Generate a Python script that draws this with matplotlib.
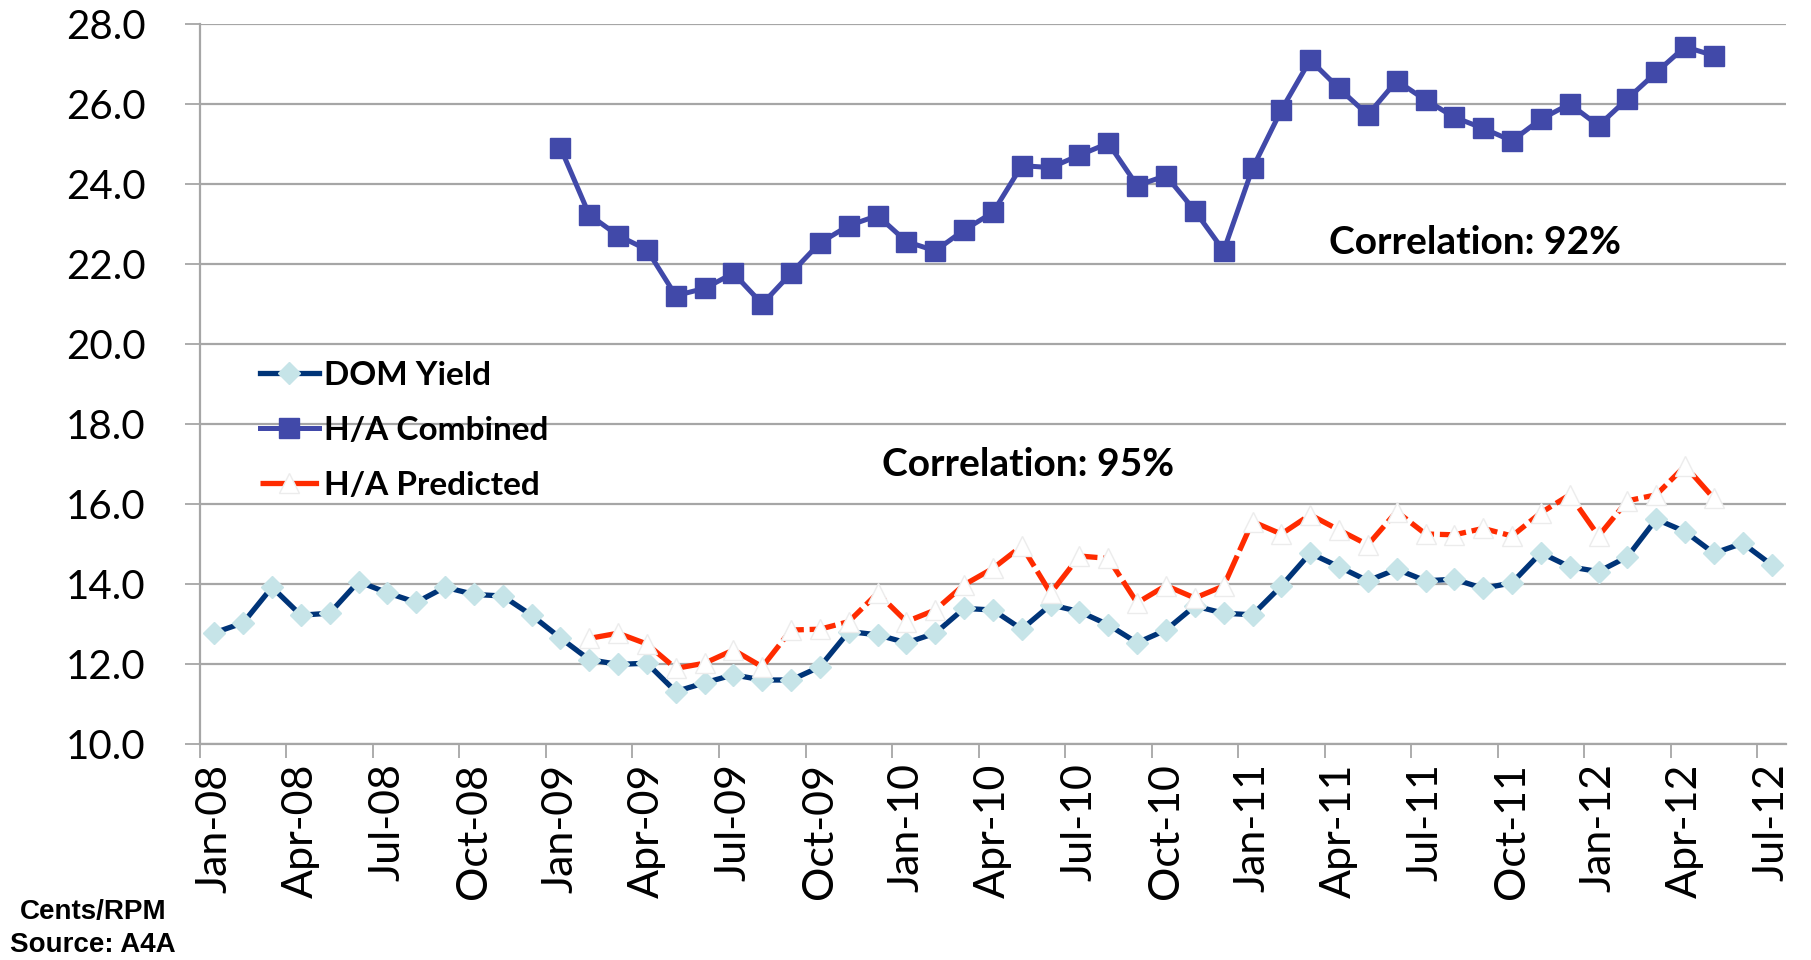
import numpy as np
import pandas as pd
import matplotlib
matplotlib.use('Agg')
import matplotlib.pyplot as plt

#monthly categories Jan-08 .. Jul-12
months = list(pd.date_range('2008-01-01', periods=55, freq='MS').strftime('%b-%y'))

#Cents/RPM
dom_yield = [12.78, 13.03, 13.92, 13.22, 13.27, 14.06, 13.78, 13.54, 13.92, 13.74, 13.70, 13.22,
             12.65, 12.11, 11.99, 12.02, 11.31, 11.53, 11.73, 11.60, 11.60, 11.93, 12.81, 12.73,
             12.53, 12.77, 13.39, 13.35, 12.87, 13.48, 13.31, 12.98, 12.53, 12.85, 13.45, 13.27,
             13.23, 13.95, 14.77, 14.43, 14.08, 14.37, 14.08, 14.12, 13.89, 14.03, 14.78, 14.43,
             14.31, 14.68, 15.62, 15.31, 14.77, 15.02, 14.48]

combined_start = 'Jan-09'
ha_combined = [24.91, 23.23, 22.71, 22.36, 21.21, 21.39, 21.77, 21.00, 21.77, 22.53, 22.96, 23.21,
               22.56, 22.33, 22.85, 23.29, 24.46, 24.41, 24.72, 25.02, 23.96, 24.21, 23.33, 22.33,
               24.39, 25.85, 27.10, 26.39, 25.73, 26.58, 26.10, 25.67, 25.39, 25.08, 25.62, 26.00,
               25.46, 26.13, 26.79, 27.43, 27.21]

predicted_start = 'Feb-09'
ha_predicted = [12.64, 12.77, 12.50, 11.89, 12.02, 12.35, 11.93, 12.85, 12.87, 13.06, 13.77,
                13.06, 13.35, 13.98, 14.39, 14.95, 13.77, 14.70, 14.64, 13.53, 13.96, 13.65,
                13.95, 15.56, 15.25, 15.73, 15.35, 14.98, 15.81, 15.25, 15.23, 15.39, 15.20,
                15.78, 16.23, 15.20, 16.08, 16.23, 16.95, 16.14]

yticks = [10, 12, 14, 16, 18, 20, 22, 24, 26, 28]

font = ['Lato', 'DejaVu Sans']
grid_col = '#a6a6a6'

fig = plt.figure(figsize=(18.11, 9.6), dpi=100)
ax = fig.add_axes([0.1104, 0.225, 0.8758, 0.75])

x = np.arange(len(months))
i0 = months.index(combined_start)
i1 = months.index(predicted_start)

ax.plot(x, dom_yield, color='#003478', lw=3.8, marker='D', ms=11,
        mfc='#c6e4e8', mec='#c6e4e8', label='DOM Yield', zorder=3)
ax.plot(x[i0:i0 + len(ha_combined)], ha_combined, color='#4149a9', lw=3.6, marker='s', ms=14,
        mfc='#4149a9', mec='#4149a9', label='H/A Combined', zorder=3)
ax.plot(x[i1:i1 + len(ha_predicted)], ha_predicted, color='#ff2b00', lw=3.8, dashes=(5, 1.1),
        marker='^', ms=14, mfc='white', mec='#ececec', mew=1.0, label='H/A Predicted', zorder=4)

#axes
ax.set_xlim(-0.5, len(months) - 0.5)
ax.set_ylim(10, 28)
ax.set_yticks(yticks)
ax.set_yticklabels(['%.1f' % v for v in yticks], fontsize=29, family=font)
ax.yaxis.grid(True, color=grid_col, lw=1.6)
ax.set_axisbelow(True)
ax.tick_params(axis='y', length=11, width=1.3, color=grid_col, pad=28)

#ticks between categories, labels on category centres
ax.set_xticks(np.arange(-0.5, len(months) - 0.5, 3))
ax.set_xticklabels([])
ax.set_xticks(x[::3], minor=True)
ax.set_xticklabels(months[::3], minor=True, rotation=90, fontsize=31, family=font)
ax.tick_params(axis='x', which='major', length=10, width=1.3, color=grid_col)
ax.tick_params(axis='x', which='minor', length=0, pad=14)

for s in ['top', 'right']:
    ax.spines[s].set_visible(False)
for s in ['left', 'bottom']:
    ax.spines[s].set_color(grid_col)
    ax.spines[s].set_linewidth(1.6)

leg = ax.legend(loc='upper left', bbox_to_anchor=(0.038, 0.532), frameon=False, numpoints=1,
                handlelength=1.75, handletextpad=0.15, labelspacing=0.78, borderpad=0, borderaxespad=0,
                prop={'family': font, 'weight': 'bold', 'size': 24})

ax.text(43.7, 22.55, 'Correlation: 92%', fontsize=28, fontweight='bold', family=font,
        ha='center', va='center')
ax.text(28.2, 16.98, 'Correlation: 95%', fontsize=28, fontweight='bold', family=font,
        ha='center', va='center')

fig.text(0.0513, 0.05, 'Cents/RPM', fontsize=20, fontweight='bold', family='Liberation Sans',
         ha='center', va='center')
fig.text(0.0513, 0.0156, 'Source: A4A', fontsize=20, fontweight='bold', family='Liberation Sans',
         ha='center', va='center')

fig.savefig('out.png', dpi=100)
